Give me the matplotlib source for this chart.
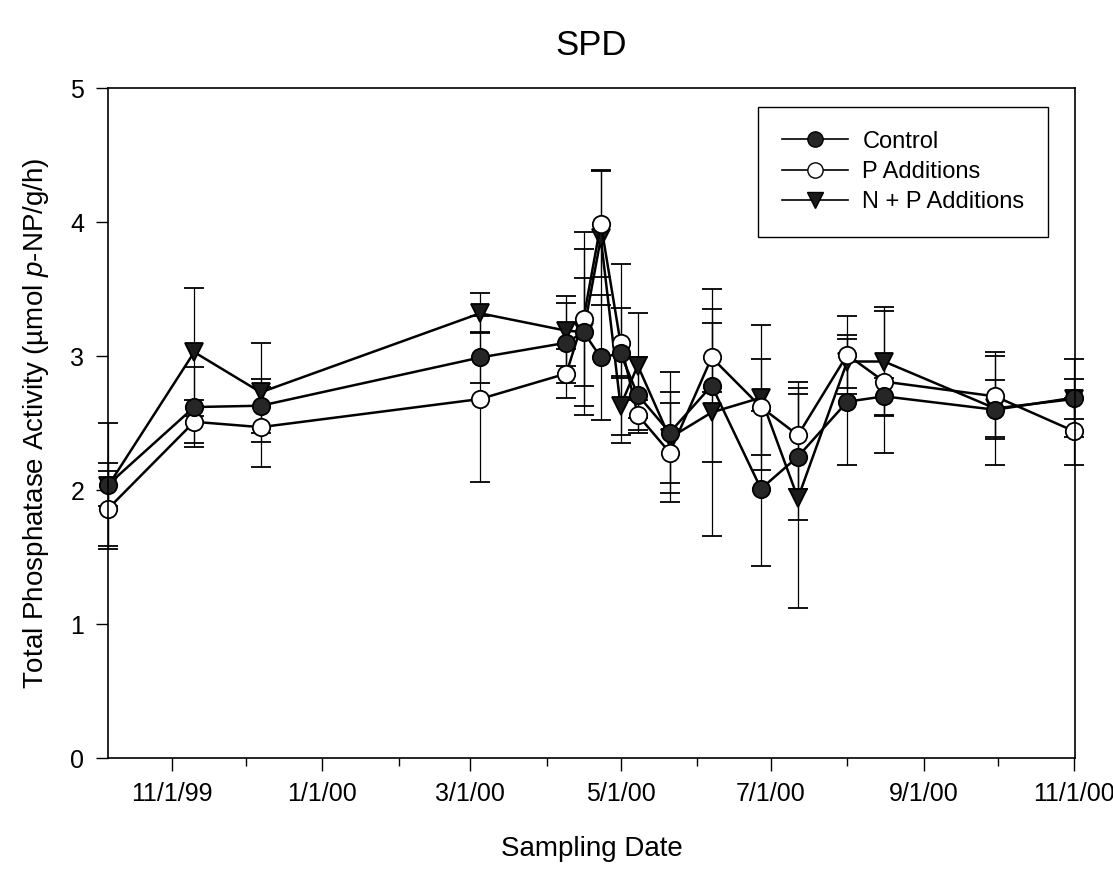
import matplotlib
matplotlib.use("Agg")
import matplotlib.pyplot as plt
import matplotlib.dates as mdates
from matplotlib.lines import Line2D
from matplotlib.ticker import FuncFormatter
import pandas as pd

plt.rcParams['font.family'] = ['Liberation Sans', 'DejaVu Sans']
plt.rcParams['mathtext.fontset'] = 'custom'
plt.rcParams['mathtext.rm'] = 'Liberation Sans'
plt.rcParams['mathtext.it'] = 'Liberation Sans:italic'

# sampling dates and treatment means / standard errors
dates = pd.to_datetime([
    "1999-10-06", "1999-11-10", "1999-12-07", "2000-03-05", "2000-04-09",
    "2000-04-16", "2000-04-23", "2000-05-01", "2000-05-08", "2000-05-21",
    "2000-06-07", "2000-06-27", "2000-07-12", "2000-08-01", "2000-08-16",
    "2000-09-30", "2000-11-01"])

control = [2.04, 2.62, 2.63, 2.99, 3.10, 3.18, 2.99, 3.02, 2.71, 2.43,
           2.78, 2.01, 2.25, 2.66, 2.70, 2.60, 2.69]
control_se = [0.16, 0.30, 0.20, 0.19, 0.30, 0.40, 0.47, 0.67, 0.28, 0.45,
              0.57, 0.58, 0.47, 0.47, 0.14, 0.22, 0.29]

p_add = [1.86, 2.51, 2.47, 2.68, 2.87, 3.28, 3.99, 3.10, 2.56, 2.28,
         2.99, 2.62, 2.41, 3.01, 2.81, 2.70, 2.44]
p_add_se = [0.28, 0.16, 0.30, 0.62, 0.18, 0.65, 0.40, 0.26, 0.11, 0.37,
            0.26, 0.36, 0.40, 0.29, 0.53, 0.30, 0.25]

np_add = [2.03, 3.03, 2.73, 3.32, 3.19, 3.18, 3.88, 2.63, 2.93, 2.39,
          2.58, 2.69, 1.94, 2.96, 2.96, 2.61, 2.68]
np_add_se = [0.47, 0.48, 0.37, 0.15, 0.26, 0.62, 0.50, 0.22, 0.39, 0.34,
             0.92, 0.54, 0.82, 0.20, 0.41, 0.42, 0.15]

fig = plt.figure(figsize=(11.13, 8.71), dpi=100)
ax = fig.add_axes([0.097, 0.1297, 0.869, 0.769])

common = dict(color='black', ms=12.5, mec='black', mew=1.3, lw=1.8,
              capsize=7, elinewidth=0.9, capthick=0.9, clip_on=False)

ax.errorbar(dates, np_add, yerr=np_add_se, marker='v', mfc='#1a1a1a', **common)
ax.errorbar(dates, p_add, yerr=p_add_se, marker='o', mfc='white', **common)
ax.errorbar(dates, control, yerr=control_se, marker='o', mfc='#262626', **common)

ax.set_xlim(pd.Timestamp("1999-10-06"), pd.Timestamp("2000-11-01 12:00"))
ax.set_ylim(0, 5)

ax.xaxis.set_major_locator(mdates.MonthLocator(bymonth=[1, 3, 5, 7, 9, 11]))
ax.xaxis.set_minor_locator(mdates.MonthLocator())
ax.xaxis.set_major_formatter(FuncFormatter(
    lambda v, pos: "{d.month}/{d.day}/{y}".format(d=mdates.num2date(v),
                                                 y=mdates.num2date(v).strftime("%y"))))
ax.set_yticks([0, 1, 2, 3, 4, 5])

ax.tick_params(axis='both', which='major', direction='out', length=9,
               width=1, labelsize=18, pad=8)
ax.tick_params(axis='x', which='minor', direction='out', length=6, width=1)
for s in ax.spines.values():
    s.set_linewidth(1.2)

ax.set_xlabel("Sampling Date", fontsize=20, labelpad=22)
ax.set_ylabel("Total Phosphatase Activity (µmol $p$-NP/g/h)", fontsize=20,
              labelpad=14)
ax.set_title("SPD", fontsize=25, pad=24)

handles = [
    Line2D([], [], color='black', lw=1.2, marker='o', ms=11, mfc='#262626', mec='black'),
    Line2D([], [], color='black', lw=1.2, marker='o', ms=11, mfc='white', mec='black'),
    Line2D([], [], color='black', lw=1.2, marker='v', ms=11, mfc='#1a1a1a', mec='black'),
]
labels = ["Control", "P Additions", "N + P Additions"]
leg = ax.legend(handles, labels, loc='upper right',
                bbox_to_anchor=(0.972, 0.972), borderaxespad=0, fontsize=17,
                frameon=True, fancybox=False, edgecolor='black', framealpha=1,
                handlelength=2.8, borderpad=1.0, labelspacing=0.35,
                handletextpad=0.6)
leg.get_frame().set_linewidth(1.0)

fig.savefig("out.png", dpi=100)
